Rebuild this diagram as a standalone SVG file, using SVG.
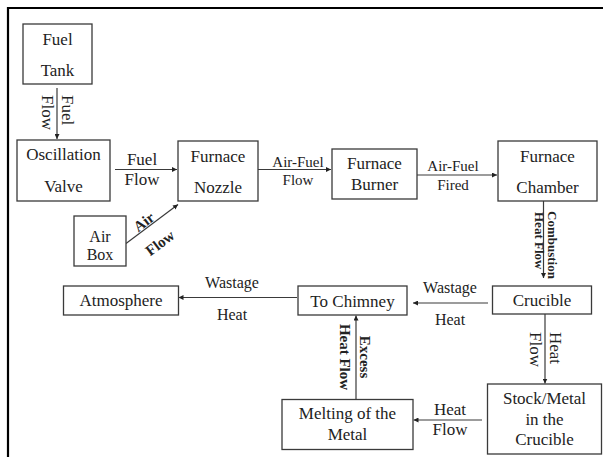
<svg xmlns="http://www.w3.org/2000/svg" width="603" height="457" viewBox="0 0 603 457" font-family="'Liberation Serif', 'Times New Roman', serif">
<style>
.box{fill:#fff;stroke:#3a3a3a;stroke-width:1.3}
.t{font-family:'Liberation Serif','Times New Roman',serif;font-size:17px;fill:#222;text-anchor:middle}
.s{font-size:15px}
.b{font-weight:bold}
.st{text-anchor:start}
.ln{stroke:#3a3a3a;stroke-width:1.2;fill:none;marker-end:url(#ah)}
</style>
<defs>
<marker id="ah" viewBox="0 0 10 10" refX="10" refY="5" markerWidth="5" markerHeight="5" markerUnits="userSpaceOnUse" orient="auto">
<path d="M0,0 L10,5 L0,10 z" fill="#222"/>
</marker>
</defs>
<rect width="603" height="457" fill="#fff"/>
<path d="M8,457 V8 H603" fill="none" stroke="#000" stroke-width="2.2"/>

<g id="connectors">
<line class="ln" x1="57" y1="88" x2="57" y2="139"/>
<line class="ln" x1="115" y1="169.5" x2="177" y2="169.5"/>
<line class="ln" x1="126" y1="243.5" x2="178" y2="204.5"/>
<line class="ln" x1="258" y1="169.5" x2="331" y2="169.5"/>
<line class="ln" x1="417" y1="175" x2="497" y2="175"/>
<line class="ln" x1="543.5" y1="201" x2="543.5" y2="278"/>
<line class="ln" x1="488" y1="303" x2="413" y2="303"/>
<line class="ln" x1="297" y1="297.5" x2="178.5" y2="297.5"/>
<line class="ln" x1="545" y1="314" x2="545" y2="383.5"/>
<line class="ln" x1="482" y1="420" x2="413.5" y2="420"/>
<line class="ln" x1="356" y1="399" x2="356" y2="315.5"/>

<text class="t st" transform="translate(62,95) rotate(90)">Fuel</text>
<text class="t st" transform="translate(41.5,95) rotate(90)">Flow</text>
<text class="t" x="142" y="165">Fuel</text>
<text class="t" x="142" y="185">Flow</text>
<text class="t b s" transform="translate(144,222) rotate(-37)" dy="5">Air</text>
<text class="t b s" transform="translate(160,243) rotate(-37)" dy="5">Flow</text>
<text class="t s" x="298" y="167">Air-Fuel</text>
<text class="t s" x="298" y="185">Flow</text>
<text class="t s" x="453" y="171">Air-Fuel</text>
<text class="t s" x="453" y="190">Fired</text>
<text class="t b st" style="font-size:13px" transform="translate(548,211) rotate(90)">Combustion</text>
<text class="t b st" style="font-size:13px" transform="translate(534.5,212) rotate(90)">Heat Flow</text>
<text class="t" style="font-size:16px" x="450" y="293">Wastage</text>
<text class="t" style="font-size:16px" x="450" y="325">Heat</text>
<text class="t" style="font-size:16px" x="232" y="288">Wastage</text>
<text class="t" style="font-size:16px" x="232" y="320">Heat</text>
<text class="t st" transform="translate(549.5,332) rotate(90)">Heat</text>
<text class="t st" transform="translate(530,332) rotate(90)">Flow</text>
<text class="t" x="450" y="415">Heat</text>
<text class="t" x="450" y="435">Flow</text>
<text class="t b s" transform="translate(360,357) rotate(90)">Excess</text>
<text class="t b s" transform="translate(339.5,357) rotate(90)">Heat Flow</text>
</g>

<g id="fuel-tank">
<rect class="box" x="23" y="24" width="69" height="60"/>
<text class="t" x="57.5" y="45">Fuel</text>
<text class="t" x="57.5" y="76">Tank</text>
</g>
<g id="oscillation-valve">
<rect class="box" x="17" y="140" width="93" height="61"/>
<text class="t" x="63.5" y="160">Oscillation</text>
<text class="t" x="63.5" y="192">Valve</text>
</g>
<g id="air-box">
<rect class="box" x="74" y="216" width="52" height="50"/>
<text class="t" style="font-size:16px" x="100" y="242">Air</text>
<text class="t" style="font-size:16px" x="100" y="260">Box</text>
</g>
<g id="furnace-nozzle">
<rect class="box" x="178" y="141" width="80" height="60"/>
<text class="t" x="218" y="161.5">Furnace</text>
<text class="t" x="218" y="193">Nozzle</text>
</g>
<g id="furnace-burner">
<rect class="box" x="332" y="149" width="85" height="50"/>
<text class="t" x="374.5" y="169">Furnace</text>
<text class="t" x="374.5" y="190">Burner</text>
</g>
<g id="furnace-chamber">
<rect class="box" x="498" y="141" width="99" height="60"/>
<text class="t" x="547.5" y="161.5">Furnace</text>
<text class="t" x="547.5" y="193">Chamber</text>
</g>
<g id="crucible">
<rect class="box" x="492.5" y="286" width="99" height="28"/>
<text class="t" x="542" y="306">Crucible</text>
</g>
<g id="to-chimney">
<rect class="box" x="298" y="286" width="109" height="29"/>
<text class="t" x="352.5" y="306.5">To Chimney</text>
</g>
<g id="atmosphere">
<rect class="box" x="63.5" y="286" width="115" height="29"/>
<text class="t" x="121" y="305.5">Atmosphere</text>
</g>
<g id="stock-metal">
<rect class="box" x="487.5" y="384" width="114" height="70"/>
<text class="t" x="544.5" y="404">Stock/Metal</text>
<text class="t" x="544.5" y="425">in the</text>
<text class="t" x="544.5" y="445">Crucible</text>
</g>
<g id="melting">
<rect class="box" x="282" y="399.5" width="131" height="50"/>
<text class="t" x="347.5" y="419">Melting of the</text>
<text class="t" x="347.5" y="440">Metal</text>
</g>
</svg>
